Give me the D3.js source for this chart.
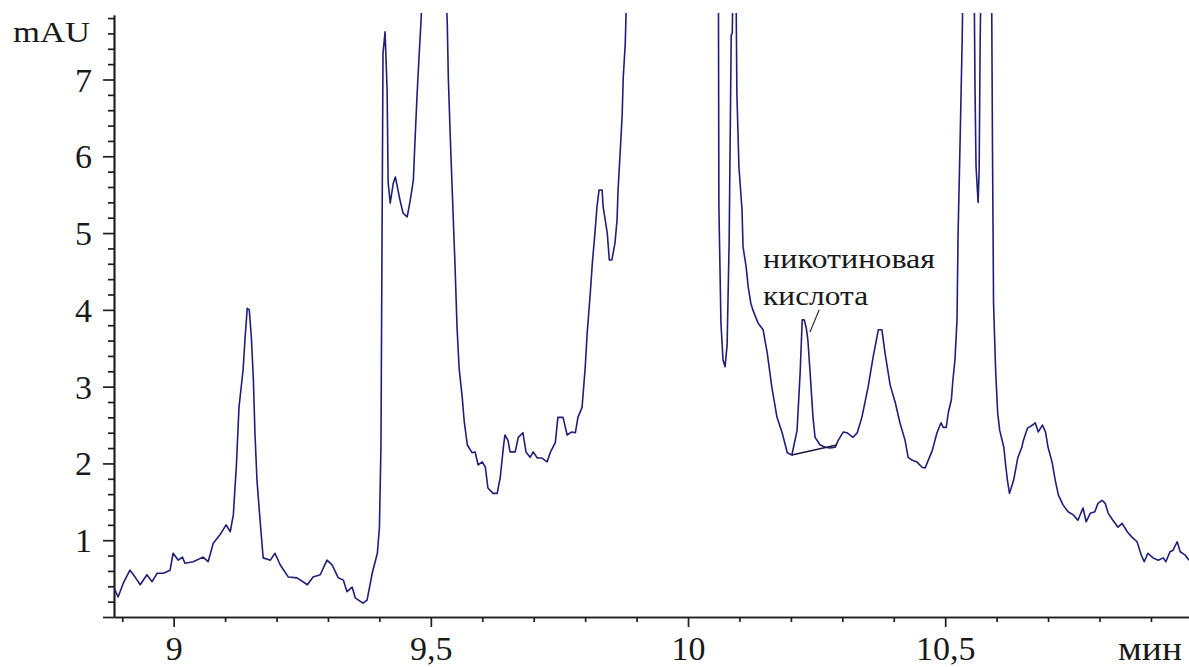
<!DOCTYPE html>
<html lang="ru">

<head>
    <meta charset="UTF-8">
    <title>Хроматограмма</title>
    <style>
        body { margin: 0; background: #fff; }
    </style>
</head>

<body>
    <script src="https://d3js.org/d3.v7.min.js"></script>
    <div id="chart"></div>
    <script>
        // retention time (min) and absorbance (mAU); off-scale tops are simply clipped
        const trace = [
            [8.884, 0.38], [8.892, 0.26], [8.902, 0.44], [8.915, 0.61], [8.925, 0.52], [8.935, 0.42], [8.948, 0.55],
            [8.958, 0.46], [8.968, 0.57], [8.980, 0.57], [8.993, 0.61], [8.999, 0.83], [9.009, 0.74], [9.017, 0.78],
            [9.022, 0.70], [9.038, 0.72], [9.057, 0.78], [9.067, 0.72], [9.077, 0.96], [9.090, 1.07], [9.102, 1.20],
            [9.110, 1.11], [9.116, 1.33], [9.122, 1.98], [9.127, 2.73], [9.135, 3.22], [9.139, 3.65], [9.143, 4.02],
            [9.147, 4.00], [9.151, 3.65], [9.155, 3.09], [9.158, 2.40], [9.162, 1.78], [9.168, 1.26], [9.174, 0.77],
            [9.188, 0.74], [9.197, 0.83], [9.207, 0.68], [9.223, 0.52], [9.240, 0.51], [9.260, 0.42], [9.271, 0.52],
            [9.285, 0.55], [9.298, 0.74], [9.308, 0.68], [9.320, 0.51], [9.330, 0.48], [9.337, 0.33], [9.347, 0.39],
            [9.353, 0.25], [9.368, 0.18], [9.376, 0.22], [9.386, 0.57], [9.396, 0.83], [9.400, 1.16], [9.403, 2.21],
            [9.405, 4.80], [9.407, 7.34], [9.411, 7.62], [9.415, 6.86], [9.417, 5.66], [9.421, 5.39], [9.427, 5.65],
            [9.431, 5.73], [9.434, 5.63], [9.440, 5.43], [9.446, 5.26], [9.454, 5.21], [9.460, 5.43], [9.466, 5.69],
            [9.469, 6.17], [9.473, 6.77], [9.477, 7.29], [9.481, 7.77], [9.485, 8.5], [9.528, 8.5], [9.532, 7.71],
            [9.534, 7.02], [9.538, 6.21], [9.543, 5.30], [9.547, 4.58], [9.551, 3.76], [9.555, 3.24], [9.561, 2.86],
            [9.565, 2.54], [9.571, 2.24], [9.580, 2.14], [9.586, 2.15], [9.592, 1.98], [9.600, 2.02], [9.606, 1.95],
            [9.611, 1.68], [9.621, 1.61], [9.629, 1.61], [9.635, 1.82], [9.641, 2.21], [9.644, 2.37], [9.650, 2.30],
            [9.654, 2.15], [9.664, 2.15], [9.670, 2.34], [9.679, 2.40], [9.685, 2.15], [9.693, 2.08], [9.699, 2.15],
            [9.707, 2.07], [9.716, 2.07], [9.726, 2.02], [9.732, 2.14], [9.742, 2.27], [9.747, 2.60], [9.757, 2.60],
            [9.765, 2.37], [9.774, 2.41], [9.781, 2.40], [9.786, 2.60], [9.794, 2.73], [9.800, 3.24], [9.804, 3.70],
            [9.810, 4.22], [9.814, 4.61], [9.819, 5.00], [9.823, 5.34], [9.827, 5.56], [9.833, 5.56], [9.835, 5.34],
            [9.843, 5.00], [9.847, 4.65], [9.852, 4.65], [9.858, 4.87], [9.862, 5.17], [9.864, 5.56], [9.868, 6.04],
            [9.872, 6.54], [9.874, 7.02], [9.878, 7.47], [9.882, 8.5], [10.059, 8.5], [10.060, 5.36], [10.064, 3.83],
            [10.068, 3.35], [10.072, 3.26], [10.076, 3.54], [10.080, 4.91], [10.084, 7.58], [10.086, 7.60], [10.088, 8.5],
            [10.093, 8.5], [10.095, 6.82], [10.099, 5.86], [10.105, 5.30], [10.107, 4.82], [10.113, 4.56], [10.117, 4.30],
            [10.122, 4.09], [10.126, 4.00], [10.136, 3.83], [10.146, 3.74], [10.154, 3.44], [10.163, 2.99], [10.173, 2.60],
            [10.183, 2.40], [10.193, 2.14], [10.202, 2.11], [10.212, 2.43], [10.218, 3.18], [10.222, 3.87], [10.226, 3.87],
            [10.230, 3.76], [10.233, 3.61], [10.237, 3.22], [10.243, 2.60], [10.247, 2.34], [10.257, 2.24], [10.267, 2.21],
            [10.276, 2.20], [10.286, 2.21], [10.292, 2.30], [10.302, 2.41], [10.309, 2.40], [10.315, 2.37], [10.321, 2.34],
            [10.329, 2.40], [10.338, 2.60], [10.350, 2.99], [10.360, 3.39], [10.370, 3.74], [10.377, 3.74], [10.383, 3.44],
            [10.393, 3.02], [10.403, 2.79], [10.412, 2.53], [10.422, 2.30], [10.428, 2.08], [10.436, 2.04], [10.445, 2.02],
            [10.455, 1.95], [10.461, 1.94], [10.467, 2.04], [10.475, 2.17], [10.484, 2.40], [10.492, 2.53], [10.496, 2.47],
            [10.502, 2.47], [10.506, 2.66], [10.512, 2.83], [10.515, 3.09], [10.519, 3.35], [10.523, 3.87], [10.525, 4.97],
            [10.529, 6.21], [10.533, 7.51], [10.535, 8.5], [10.556, 8.5], [10.558, 6.87], [10.560, 5.86], [10.564, 5.40],
            [10.566, 5.82], [10.568, 7.51], [10.570, 8.5], [10.590, 8.5], [10.592, 6.05], [10.594, 4.09], [10.598, 3.22],
            [10.602, 2.66], [10.606, 2.43], [10.614, 2.21], [10.618, 1.95], [10.621, 1.78], [10.625, 1.61], [10.633, 1.78],
            [10.641, 2.07], [10.649, 2.21], [10.652, 2.30], [10.660, 2.46], [10.670, 2.50], [10.675, 2.53], [10.681, 2.41],
            [10.689, 2.50], [10.695, 2.41], [10.700, 2.21], [10.708, 2.01], [10.714, 1.78], [10.720, 1.59], [10.729, 1.46],
            [10.739, 1.37], [10.749, 1.33], [10.758, 1.26], [10.768, 1.42], [10.774, 1.24], [10.782, 1.35], [10.791, 1.37],
            [10.797, 1.48], [10.805, 1.52], [10.811, 1.48], [10.817, 1.35], [10.826, 1.26], [10.836, 1.17], [10.844, 1.22],
            [10.854, 1.11], [10.863, 1.04], [10.873, 0.98], [10.881, 0.81], [10.887, 0.72], [10.894, 0.83], [10.904, 0.77],
            [10.914, 0.74], [10.924, 0.77], [10.929, 0.72], [10.937, 0.85], [10.943, 0.87], [10.951, 0.98], [10.957, 0.85],
            [10.966, 0.81], [10.974, 0.74]
        ]

        // integration baseline under the nicotinic acid peak
        const peakBaseline = [[10.202, 2.11], [10.289, 2.24]]
        // leader from the label to the peak
        const leader = [[10.237, 3.71], [10.255, 4.00]]
        const peakLabel = [
            { t: 10.146, v: 4.545, text: "никотиновая" },
            { t: 10.146, v: 4.063, text: "кислота" }
        ]

        const xMajor = [9, 9.5, 10, 10.5]
        const xLabels = ["9", "9,5", "10", "10,5"]
        const xMinor = [8.9, 9.1, 9.2, 9.3, 9.4, 9.6, 9.7, 9.8, 9.9, 10.1, 10.2, 10.3, 10.4, 10.6, 10.7, 10.8, 10.9]
        const yMajor = [0, 1, 2, 3, 4, 5, 6, 7]
        const yLabels = ["", "1", "2", "3", "4", "5", "6", "7"]
        const yMinor = [0.2, 0.4, 0.6, 0.8, 1.2, 1.4, 1.6, 1.8, 2.2, 2.4, 2.6, 2.8, 3.2, 3.4, 3.6, 3.8,
            4.2, 4.4, 4.6, 4.8, 5.2, 5.4, 5.6, 5.8, 6.2, 6.4, 6.6, 6.8, 7.2, 7.4, 7.6, 7.8]

        const W = 1189, H = 667
        const LEFT = 114, TOP = 15, BOTTOM = 617
        const FONT = '"Liberation Serif", "Times New Roman", serif'
        const INK = "#1a1a1a"

        const svg = d3.select("#chart")
            .append("svg")
            .attr("width", W)
            .attr("height", H)
            .style("display", "block")

        const x = d3.scaleLinear()
            .domain([8.884, 10.974])
            .range([LEFT, W])

        const y = d3.scaleLinear()
            .domain([0, 7.84])
            .range([BOTTOM, TOP])

        svg.append("clipPath")
            .attr("id", "plot")
            .append("rect")
            .attr("x", LEFT)
            .attr("y", TOP - 2)
            .attr("width", W - LEFT)
            .attr("height", BOTTOM - TOP + 2)

        // axes
        const axisColor = "#1e1e1e"

        svg.append("g")
            .attr("transform", `translate(0, ${BOTTOM})`)
            .call(d3.axisBottom(x).tickValues(xMinor).tickSize(5).tickSizeOuter(0).tickFormat(""))

        const xAxis = svg.append("g")
            .attr("transform", `translate(0, ${BOTTOM})`)
            .call(d3.axisBottom(x).tickValues(xMajor).tickSize(10).tickSizeOuter(0)
                .tickFormat((d, i) => xLabels[i]))
        xAxis.selectAll("text")
            .attr("y", 43)
            .attr("dy", 0)

        svg.append("g")
            .attr("transform", `translate(${LEFT}, 0)`)
            .call(d3.axisLeft(y).tickValues(yMinor).tickSize(6).tickSizeOuter(0).tickFormat(""))

        const yAxis = svg.append("g")
            .attr("transform", `translate(${LEFT}, 0)`)
            .call(d3.axisLeft(y).tickValues(yMajor).tickSize(11).tickSizeOuter(0)
                .tickFormat((d, i) => yLabels[i]))
        yAxis.selectAll("text")
            .attr("x", -22)
            .attr("dy", "0.34em")

        svg.selectAll(".domain, .tick line")
            .attr("stroke", axisColor)
            .attr("stroke-width", 1.7)
        svg.selectAll(".tick text")
            .attr("fill", INK)
            .style("font-family", FONT)
            .style("font-size", "34px")

        // units
        svg.append("text")
            .attr("x", 90)
            .attr("y", 42)
            .attr("text-anchor", "end")
            .attr("textLength", 77)
            .attr("lengthAdjust", "spacingAndGlyphs")
            .attr("fill", INK)
            .style("font-family", FONT)
            .style("font-size", "30px")
            .text("mAU")

        svg.append("text")
            .attr("x", 1182)
            .attr("y", 660)
            .attr("text-anchor", "end")
            .attr("textLength", 64)
            .attr("lengthAdjust", "spacingAndGlyphs")
            .attr("fill", INK)
            .style("font-family", FONT)
            .style("font-size", "34px")
            .text("мин")

        // signal
        const line = d3.line()
            .x(d => x(d[0]))
            .y(d => y(d[1]))

        svg.append("path")
            .datum(trace)
            .attr("clip-path", "url(#plot)")
            .attr("d", line)
            .attr("fill", "none")
            .attr("stroke", "#1f1f7a")
            .attr("stroke-width", 1.6)
            .attr("stroke-linejoin", "round")

        svg.append("path")
            .datum(peakBaseline)
            .attr("d", line)
            .attr("fill", "none")
            .attr("stroke", "#1a1a40")
            .attr("stroke-width", 1.5)

        svg.append("path")
            .datum(leader)
            .attr("d", line)
            .attr("fill", "none")
            .attr("stroke", "#222")
            .attr("stroke-width", 1.2)

        const labelWidths = [172, 105]
        svg.selectAll(".peak-label")
            .data(peakLabel)
            .join("text")
            .attr("class", "peak-label")
            .attr("x", d => x(d.t))
            .attr("y", d => y(d.v))
            .attr("textLength", (d, i) => labelWidths[i])
            .attr("lengthAdjust", "spacingAndGlyphs")
            .attr("fill", INK)
            .style("font-family", FONT)
            .style("font-size", "28px")
            .text(d => d.text)
    </script>
</body>

</html>
